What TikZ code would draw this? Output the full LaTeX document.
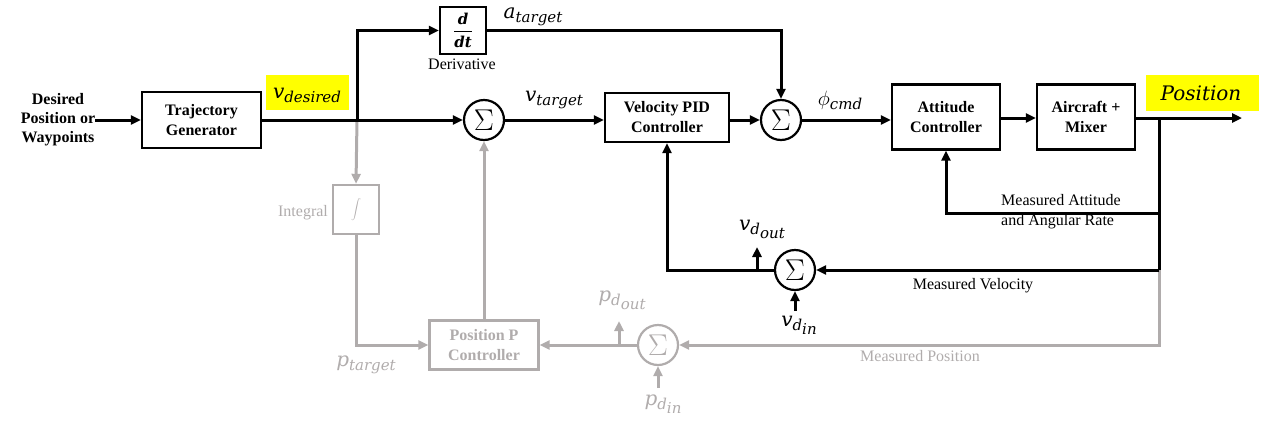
\documentclass[tikz,border=0pt]{standalone}
\usepackage{fontspec}
\setmainfont{Liberation Serif}
\newfontfamily\mfont{DejaVu Serif}
\usetikzlibrary{arrows.meta}
\definecolor{lg}{RGB}{176,172,172}
\definecolor{hl}{RGB}{255,255,0}
\newcommand\ms[1]{{\mfont\itshape\fontsize{20}{20}\selectfont #1}}
\newcommand\msub[1]{\raisebox{-4pt}{\mfont\itshape\fontsize{15}{15}\selectfont #1}}
\newcommand\bi[1]{\hbox{\mfont\bfseries\itshape\fontsize{15}{15}\selectfont #1}}
\newcommand\bigsig{\scalebox{1.45}{$\Sigma$}}
\begin{document}
\begin{tikzpicture}[x=1pt,y=-1pt,
  blk/.style={draw,line width=2.4pt,align=center,font=\bfseries\fontsize{16}{20}\selectfont,inner sep=0pt},
  gblk/.style={blk,draw=lg,text=lg},
  sumn/.style={draw,circle,line width=2.2pt,minimum size=40pt,inner sep=0pt,font=\fontsize{20}{20}\selectfont},
  gsum/.style={sumn,draw=lg,text=lg},
  arr/.style={line width=3pt,-{Triangle[length=10pt,width=9pt]}},
  ln/.style={line width=3pt},
  garr/.style={arr,draw=lg},
  gln/.style={ln,draw=lg},
  lbl/.style={font=\fontsize{16}{20}\selectfont,inner sep=0pt},
  glbl/.style={lbl,text=lg}]
\useasboundingbox (0,0) rectangle (1270,424);
% nodes
\node[blk,minimum width=119pt,minimum height=56pt] (traj) at (201.5,120) {Trajectory\\Generator};
\node[blk,minimum width=46pt,minimum height=47pt] (der) at (463,30.5) {$\displaystyle\frac{\bi{d}}{\bi{dt}}$};
\node[sumn] (s1) at (484,120) {\bigsig};
\node[blk,minimum width=124pt,minimum height=49pt] (vpid) at (667,117.5) {Velocity PID\\Controller};
\node[sumn] (s2) at (781,120) {\bigsig};
\node[blk,minimum width=108pt,minimum height=65pt] (att) at (946,117) {Attitude\\Controller};
\node[blk,minimum width=98pt,minimum height=65pt] (air) at (1086,117) {Aircraft +\\Mixer};
\node[sumn] (s3) at (795,270) {\bigsig};
\node[gblk,minimum width=46pt,minimum height=49pt,font=\fontsize{16}{16}\selectfont] (int) at (356,209.5) {$\displaystyle\int$};
\node[gblk,minimum width=109pt,minimum height=49pt] (posp) at (484,345) {Position P\\Controller};
\node[gsum] (s4) at (658,345) {\bigsig};
% coordinates
\coordinate (in) at (95,120);
\coordinate (br) at (357,120);
\coordinate (out) at (1242,118);
\coordinate (fb) at (1159,118);
\coordinate (fa) at (1159,213);
\coordinate (fv) at (1159,270);
\coordinate (vo) at (757,270);
\coordinate (vot) at (757,247);
\coordinate (vi) at (795,311);
\coordinate (po) at (619,345);
\coordinate (pot) at (619,321);
\coordinate (pi) at (658,388);
% gray connections first
\draw[garr] (br) -- (int.north);
\draw[garr] (int.south) |- (posp.west);
\draw[garr] (posp.north) -- (s1.south);
\draw[garr] (fv) |- (s4.east);
\draw[garr] (s4.west) -- (posp.east);
\draw[garr] (po) -- (pot);
\draw[garr] (pi) -- (s4.south);
% black connections
\draw[arr] (in) -- (traj.west);
\draw[arr] (traj.east) -- (s1.west);
\draw[arr] (br) |- (der.west);
\draw[arr] (der.east) -| (s2.north);
\draw[arr] (s1.east) -- (vpid.west |- s1.east);
\draw[arr] (vpid.east |- s2.west) -- (s2.west);
\draw[arr] (s2.east) -- (att.west |- s2.east);
\draw[arr] (att.east |- out) -- (air.west |- out);
\draw[arr] (air.east |- out) -- (out);
\draw[ln] (fb) -- (fv);
\draw[arr] (fa) -| (att.south);
\draw[arr] (fv) -- (s3.east);
\draw[arr] (s3.west) -| (vpid.south);
\draw[arr] (vo) -- (vot);
\draw[arr] (vi) -- (s3.south);
% highlights and labels
\fill[hl] (266,75) rectangle (349,110);
\node[inner sep=0pt] (lvd) at (307,95) {\ms{v}\msub{desired}};
\fill[hl] (1146,75) rectangle (1259,111);
\node[inner sep=0pt] (lpos) at (1201,93) {\ms{Position}};
\node[align=center,inner sep=0pt,font=\bfseries\fontsize{16}{19}\selectfont] (lin) at (58,120) {Desired\\Position or\\Waypoints};
\node[lbl] (lder) at (462,64) {Derivative};
\node[inner sep=0pt] (lat) at (533,17) {\ms{a}\msub{target}};
\node[inner sep=0pt] (lvt) at (554,100) {\ms{v}\msub{target}};
\node[inner sep=0pt] (lphi) at (840,100) {{\fontsize{22}{22}\selectfont$\phi$}\msub{cmd}};
\node[lbl,align=left,anchor=west] (lma) at (1001,212) {Measured Attitude\\and Angular Rate};
\node[lbl] (lmv) at (973,286) {Measured Velocity};
\node[inner sep=0pt] (lvdo) at (762,229) {\ms{v}\msub{d\raisebox{-4pt}{out}}};
\node[inner sep=0pt] (lvdi) at (799,325) {\ms{v}\msub{d\raisebox{-4pt}{in}}};
\node[glbl] (lint) at (303,213) {Integral};
\node[inner sep=0pt,text=lg] (lpt) at (366,365) {\ms{p}\msub{target}};
\node[inner sep=0pt,text=lg] (lpdo) at (622,300) {\ms{p}\msub{d\raisebox{-4pt}{out}}};
\node[inner sep=0pt,text=lg] (lpdi) at (663,404) {\ms{p}\msub{d\raisebox{-4pt}{in}}};
\node[glbl] (lmp) at (920,356) {Measured Position};
\end{tikzpicture}
\end{document}
